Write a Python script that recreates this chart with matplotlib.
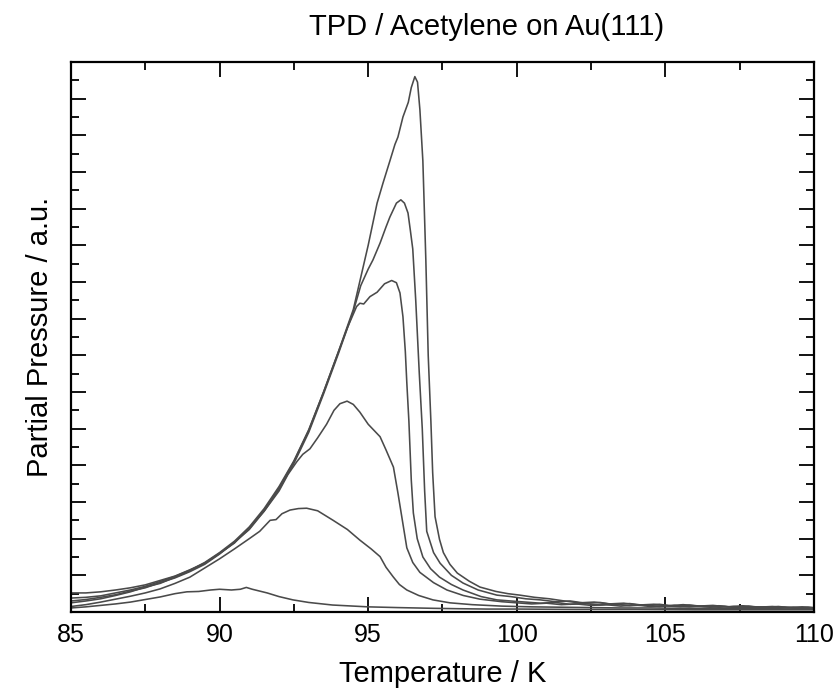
"""
TPD spektrum asetilena pada Au(111): enam kurva desorpsi (dosis berbeda).
Output -> out.png
"""
import numpy as np
import matplotlib
matplotlib.use("Agg")
import matplotlib.pyplot as plt
from matplotlib.ticker import MultipleLocator

# (T / K, tekanan parsial / a.u.)
curve_1 = [(85.0, 0.30), (85.5, 0.34), (86.0, 0.40), (86.5, 0.47), (87.0, 0.57), (87.5, 0.66),
           (88.0, 0.80), (88.5, 0.93), (89.0, 1.10), (89.5, 1.30), (90.0, 1.58), (90.5, 1.90),
           (91.0, 2.27), (91.5, 2.78), (92.0, 3.38), (92.5, 4.10), (93.0, 4.95), (93.5, 6.00),
           (94.0, 7.10), (94.5, 8.25), (95.0, 10.0), (95.3, 11.15), (95.5, 11.7), (95.73, 12.3),
           (95.9, 12.75), (96.0, 12.95), (96.17, 13.5), (96.35, 13.9), (96.45, 14.3), (96.57, 14.6),
           (96.66, 14.45), (96.74, 13.7), (96.84, 12.3), (96.94, 9.6), (97.02, 7.0), (97.11, 5.2),
           (97.17, 3.8), (97.25, 2.6), (97.4, 1.98), (97.53, 1.62), (97.75, 1.3), (98.0, 1.06),
           (98.4, 0.84), (98.76, 0.68), (99.3, 0.56), (99.7, 0.50), (100.1, 0.46), (100.6, 0.40),
           (101.1, 0.36), (101.6, 0.30), (102.1, 0.25), (102.6, 0.27), (103.1, 0.22), (103.6, 0.24),
           (104.1, 0.19), (104.6, 0.21), (105.1, 0.17), (105.6, 0.20), (106.1, 0.16), (106.6, 0.18),
           (107.1, 0.14), (107.6, 0.17), (108.1, 0.13), (108.6, 0.15), (109.1, 0.12), (109.6, 0.14),
           (110.0, 0.12)]

curve_2 = [(85.0, 0.25), (85.5, 0.30), (86.0, 0.36), (86.5, 0.45), (87.0, 0.55), (87.5, 0.68),
           (88.0, 0.78), (88.5, 0.95), (89.0, 1.12), (89.5, 1.33), (90.0, 1.60), (90.5, 1.88),
           (91.0, 2.30), (91.5, 2.75), (92.0, 3.35), (92.5, 4.05), (93.0, 4.90), (93.5, 5.95),
           (94.0, 7.05), (94.5, 8.20), (94.75, 8.90), (95.0, 9.35), (95.16, 9.60), (95.4, 10.06),
           (95.6, 10.5), (95.73, 10.77), (95.95, 11.15), (96.1, 11.24), (96.22, 11.15), (96.34, 10.88),
           (96.42, 10.4), (96.5, 9.9), (96.6, 8.5), (96.72, 6.5), (96.82, 5.0), (96.9, 3.3),
           (96.97, 2.2), (97.2, 1.62), (97.42, 1.33), (97.8, 1.0), (98.19, 0.79), (98.7, 0.60),
           (99.33, 0.46), (99.8, 0.42), (100.3, 0.36), (100.8, 0.33), (101.3, 0.28), (101.8, 0.30),
           (102.3, 0.24), (102.8, 0.26), (103.3, 0.20), (103.8, 0.23), (104.3, 0.18), (104.8, 0.21),
           (105.3, 0.16), (105.8, 0.19), (106.3, 0.15), (106.8, 0.17), (107.3, 0.13), (107.8, 0.16),
           (108.3, 0.12), (108.8, 0.15), (109.3, 0.11), (109.8, 0.13), (110.0, 0.11)]

curve_3 = [(85.0, 0.38), (85.5, 0.40), (86.0, 0.44), (86.5, 0.52), (87.0, 0.60), (87.5, 0.70),
           (88.0, 0.83), (88.5, 0.97), (89.0, 1.14), (89.5, 1.35), (90.0, 1.62), (90.5, 1.93),
           (91.0, 2.32), (91.5, 2.82), (92.0, 3.42), (92.5, 4.12), (93.0, 4.97), (93.5, 6.00),
           (94.0, 7.10), (94.3, 7.75), (94.61, 8.33), (94.72, 8.42), (94.85, 8.40), (95.06, 8.60),
           (95.3, 8.72), (95.55, 8.95), (95.79, 9.04), (95.95, 8.98), (96.07, 8.70), (96.17, 8.05),
           (96.25, 7.1), (96.3, 6.25), (96.37, 5.2), (96.41, 4.4), (96.45, 3.6), (96.52, 2.7),
           (96.65, 2.0), (96.84, 1.5), (97.1, 1.18), (97.4, 0.95), (97.8, 0.75), (98.19, 0.60),
           (98.8, 0.42), (99.33, 0.33), (99.8, 0.30), (100.3, 0.27), (100.8, 0.24), (101.3, 0.26),
           (101.8, 0.21), (102.3, 0.23), (102.8, 0.19), (103.3, 0.21), (103.8, 0.17), (104.3, 0.19),
           (104.8, 0.15), (105.3, 0.18), (105.8, 0.14), (106.3, 0.16), (106.8, 0.13), (107.3, 0.15),
           (107.8, 0.12), (108.3, 0.14), (108.8, 0.11), (109.3, 0.13), (109.8, 0.10), (110.0, 0.10)]

curve_4 = [(85.0, 0.52), (85.5, 0.52), (86.0, 0.55), (86.5, 0.60), (87.0, 0.66), (87.5, 0.74),
           (88.0, 0.86), (88.5, 0.98), (89.0, 1.15), (89.5, 1.33), (90.0, 1.60), (90.5, 1.90),
           (91.0, 2.25), (91.5, 2.75), (92.0, 3.30), (92.3, 3.75), (92.6, 4.10), (92.8, 4.30),
           (93.04, 4.45), (93.3, 4.75), (93.6, 5.12), (93.85, 5.50), (94.05, 5.68), (94.29, 5.75),
           (94.5, 5.66), (94.72, 5.45), (95.0, 5.12), (95.2, 4.95), (95.4, 4.78), (95.6, 4.42),
           (95.85, 3.95), (96.0, 3.25), (96.1, 2.75), (96.3, 1.75), (96.5, 1.35), (96.74, 1.08),
           (97.2, 0.80), (97.65, 0.60), (98.2, 0.45), (98.76, 0.35), (99.5, 0.28), (100.0, 0.25),
           (100.5, 0.22), (101.0, 0.24), (101.5, 0.20), (102.0, 0.22), (102.5, 0.18), (103.0, 0.20),
           (103.5, 0.16), (104.0, 0.19), (104.5, 0.15), (105.0, 0.17), (105.5, 0.14), (106.0, 0.16),
           (106.5, 0.13), (107.0, 0.15), (107.5, 0.12), (108.0, 0.14), (108.5, 0.11), (109.0, 0.13),
           (109.5, 0.10), (110.0, 0.11)]

curve_5 = [(85.0, 0.15), (85.5, 0.20), (86.0, 0.27), (86.5, 0.35), (87.0, 0.43), (87.5, 0.52),
           (88.0, 0.63), (88.5, 0.78), (89.0, 0.95), (89.5, 1.20), (90.0, 1.45), (90.5, 1.72),
           (91.0, 2.00), (91.35, 2.20), (91.7, 2.50), (91.9, 2.52), (92.1, 2.68), (92.37, 2.78),
           (92.65, 2.82), (92.93, 2.83), (93.3, 2.76), (93.82, 2.50), (94.3, 2.25), (94.72, 1.96),
           (95.1, 1.72), (95.4, 1.51), (95.6, 1.22), (95.84, 0.96), (96.05, 0.75), (96.3, 0.60),
           (96.7, 0.45), (97.18, 0.33), (97.75, 0.25), (98.5, 0.20), (99.5, 0.16), (100.5, 0.14),
           (101.5, 0.13), (102.5, 0.12), (103.5, 0.11), (104.5, 0.11), (105.5, 0.10), (106.5, 0.10),
           (107.5, 0.09), (108.5, 0.09), (109.5, 0.08), (110.0, 0.08)]

curve_6 = [(85.0, 0.11), (85.5, 0.14), (86.0, 0.18), (86.5, 0.22), (87.0, 0.27), (87.5, 0.34),
           (88.0, 0.41), (88.5, 0.50), (88.9, 0.55), (89.3, 0.56), (89.7, 0.60), (90.0, 0.62),
           (90.4, 0.60), (90.7, 0.62), (90.9, 0.67), (91.1, 0.62), (91.6, 0.52), (92.0, 0.42),
           (92.47, 0.33), (93.0, 0.26), (93.8, 0.19), (95.0, 0.14), (96.0, 0.12), (97.2, 0.10),
           (98.0, 0.09), (99.0, 0.08), (100.0, 0.08), (102.0, 0.07), (104.0, 0.07), (106.0, 0.06),
           (108.0, 0.06), (110.0, 0.06)]

curves = [curve_1, curve_2, curve_3, curve_4, curve_5, curve_6]

x_ticks = [85, 90, 95, 100, 105, 110]


def main():
    plt.rcParams['font.family'] = ['Liberation Sans', 'DejaVu Sans']
    fig = plt.figure(figsize=(8.37, 6.96), dpi=100)
    ax = fig.add_axes([0.0848, 0.1207, 0.8877, 0.7903])

    for c in curves:
        a = np.array(c)
        ax.plot(a[:, 0], a[:, 1], '-', color="#4a4a4a", lw=1.15)

    ax.set_xlim(85, 110)
    ax.set_ylim(0, 15)
    ax.set_xticks(x_ticks)
    ax.xaxis.set_minor_locator(MultipleLocator(2.5))
    ax.yaxis.set_major_locator(MultipleLocator(1))
    ax.yaxis.set_minor_locator(MultipleLocator(0.5))
    ax.tick_params(which="both", direction="in", top=True, right=True, width=1.3)
    ax.tick_params(which="major", length=11, labelsize=18, pad=8)
    ax.tick_params(which="minor", length=6)
    ax.tick_params(axis="y", which="both", labelleft=False)
    for s in ax.spines.values():
        s.set_linewidth(1.6)

    ax.set_xlabel("Temperature / K", fontsize=21, labelpad=9)
    ax.set_ylabel("Partial Pressure / a.u.", fontsize=21, labelpad=12)
    fig.text(0.581, 0.9497, "TPD / Acetylene on Au(111)", fontsize=21,
             ha="center", va="baseline")

    fig.savefig("out.png", dpi=100)
    plt.close(fig)


if __name__ == "__main__":
    main()
